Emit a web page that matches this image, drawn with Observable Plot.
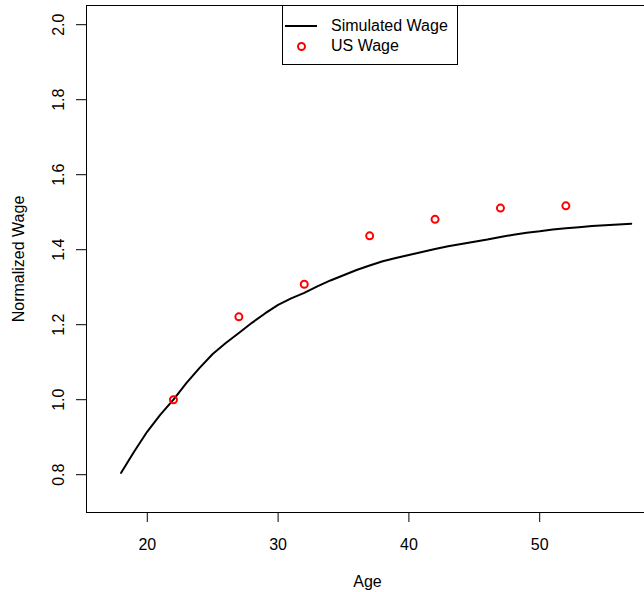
<!DOCTYPE html>
<html>
<head>
<meta charset="utf-8">
<script src="https://cdn.jsdelivr.net/npm/d3@7"></script>
<script src="https://cdn.jsdelivr.net/npm/@observablehq/plot@0.6"></script>
<style>
  html, body { margin: 0; padding: 0; background: #fff; }
  #wrap { position: relative; width: 644px; height: 592px; overflow: hidden; font-family: "Liberation Sans", Arial, Helvetica, sans-serif; }
  #chart svg { max-width: none !important; }
  #legend { position: absolute; left: 282px; top: 5px; width: 174px; height: 58px; border: 1px solid #000; background: #fff; font-size: 16px; color: #000; }
  #legend .row { position: absolute; left: 0; height: 20px; width: 100%; }
  #legend .lab { position: absolute; left: 48px; top: 0; line-height: 20px; white-space: nowrap; }
  #legend svg { position: absolute; left: 0; top: 0; }
</style>
</head>
<body>
<div id="wrap">
  <div id="chart"></div>
  <div id="legend">
    <div class="row" style="top:10px">
      <svg width="40" height="20"><line x1="2" x2="34" y1="10" y2="10" stroke="#000" stroke-width="2"/></svg>
      <span class="lab">Simulated Wage</span>
    </div>
    <div class="row" style="top:30px">
      <svg width="40" height="20"><circle cx="18.5" cy="10.5" r="3.5" fill="none" stroke="#ff0000" stroke-width="2"/></svg>
      <span class="lab">US Wage</span>
    </div>
  </div>
</div>
<script>
const simAges = [18,19,20,21,22,23,24,25,26,27,28,29,30,31,32,33,34,35,36,37,38,39,40,41,42,43,44,45,46,47,48,49,50,51,52,53,54,55,56,57];
const simWage = [0.805,0.862,0.915,0.960,1.000,1.045,1.085,1.122,1.151,1.178,1.205,1.230,1.253,1.270,1.285,1.302,1.318,1.332,1.346,1.358,1.369,1.378,1.386,1.394,1.402,1.409,1.415,1.421,1.427,1.434,1.440,1.445,1.449,1.454,1.457,1.460,1.463,1.465,1.467,1.469];
const usAges = [22,27,32,37,42,47,52];
const usWage = [1.000,1.221,1.308,1.437,1.481,1.511,1.517];
const xTicks = [20,30,40,50];
const yTicks = [0.8,1.0,1.2,1.4,1.6,1.8,2.0];

const sim = simAges.map((a,i) => ({age: a, wage: simWage[i]}));
const us = usAges.map((a,i) => ({age: a, wage: usWage[i]}));

const chart = Plot.plot({
  width: 648,
  height: 592,
  marginLeft: 86,
  marginRight: 0,
  marginTop: 5,
  marginBottom: 80,
  style: {fontFamily: '"Liberation Sans", Arial, Helvetica, sans-serif', fontSize: "16px", color: "#000", background: "#fff"},
  x: {domain: [15.352, 58.318]},
  y: {domain: [0.6992, 2.0512]},
  marks: [
    Plot.frame({stroke: "#000"}),
    Plot.axisX(xTicks, {tickSize: 10, tickPadding: 16, fontSize: 16, label: "Age", labelAnchor: "center", labelArrow: "none", labelOffset: 74}),
    Plot.axisY(yTicks, {tickSize: 10, tickPadding: 13, tickRotate: -90, fontSize: 16, tickFormat: d => d.toFixed(1), label: "Normalized Wage", labelAnchor: "center", labelArrow: "none", labelOffset: 74}),
    Plot.line(sim, {x: "age", y: "wage", stroke: "#000", strokeWidth: 2}),
    Plot.dot(us, {x: "age", y: "wage", r: 3.5, stroke: "#ff0000", strokeWidth: 2, fill: "none"})
  ]
});
chart.style.maxWidth = "none";
chart.style.height = "592px";
chart.style.width = "648px";
document.getElementById("chart").appendChild(chart);
</script>
</body>
</html>
